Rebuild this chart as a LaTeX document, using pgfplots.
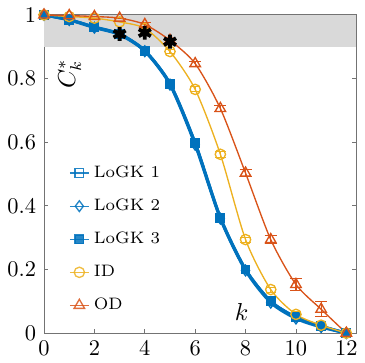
\documentclass[border=0pt]{standalone}
\usepackage{pgfplots}
\pgfplotsset{compat=1.18}
\definecolor{mblue}{RGB}{0,114,189}
\definecolor{myellow}{RGB}{237,177,32}
\definecolor{morange}{RGB}{217,83,25}
\definecolor{band}{RGB}{217,217,217}
\begin{document}
\begin{tikzpicture}
\begin{axis}[
  scale only axis,
  width=139.4pt, height=142pt,
  xmin=0, xmax=12.4, ymin=0, ymax=1,
  xtick={0,2,...,12}, ytick={0,0.2,...,1},
  yticklabels={0,0.2,0.4,0.6,0.8,1},
  tick align=inside,
  major tick length=1.8pt,
  axis line style={black!55, line width=0.4pt},
  tick style={black!55, line width=0.4pt},
  tick label style={font=\fontsize{10}{12}\selectfont},
  clip=false,
  legend style={draw=none, fill=none, at={(axis cs:1.0,0.541)}, anchor=north west,
    font=\fontsize{7.4}{9}\selectfont, row sep=4.1pt, inner sep=0pt, outer sep=0pt},
  legend cell align=left,
  legend image code/.code={\draw[mark repeat=2,mark phase=2,line width=0.5pt,opacity=0.85]
     plot coordinates {(0cm,0cm) (0.15cm,0cm) (0.3cm,0cm)};},
  every axis plot/.append style={smooth, tension=0.45},
]
\fill[band] (axis cs:0,0.9) rectangle (axis cs:12.4,1);
\draw[black!55, line width=0.4pt] (axis cs:0,1) -- (axis cs:12.4,1);
% LoGK 1
\addplot[mblue, line width=1.3pt, mark=square, mark size=1.9pt, mark options={line width=0.6pt, solid}]
 coordinates {(0,1) (1,0.985) (2,0.962) (3,0.94) (4,0.888) (5,0.784) (6,0.597) (7,0.363) (8,0.2) (9,0.1) (10,0.05) (11,0.022) (12,0)};
\addlegendentry{LoGK 1}
% LoGK 2
\addplot[mblue, line width=1.3pt, mark=diamond, mark size=2.4pt, mark options={line width=0.6pt, solid}]
 coordinates {(0,1) (1,0.984) (2,0.96) (3,0.938) (4,0.886) (5,0.781) (6,0.592) (7,0.36) (8,0.197) (9,0.096) (10,0.046) (11,0.019) (12,0)};
\addlegendentry{LoGK 2}
% LoGK 3
\addplot[mblue, line width=1.3pt, mark=square*, mark size=1.9pt, mark options={line width=0.6pt, solid}]
 coordinates {(0,1) (1,0.985) (2,0.962) (3,0.94) (4,0.888) (5,0.784) (6,0.597) (7,0.363) (8,0.2) (9,0.1) (10,0.05) (11,0.022) (12,0)};
\addlegendentry{LoGK 3}
% ID
\addplot[myellow, line width=0.6pt, mark=o, mark size=2.3pt, mark options={line width=0.6pt, solid},
  error bars/.cd, y dir=both, y explicit, error bar style={line width=0.5pt}]
 coordinates {(0,1) +- (0,0) (1,0.995) +- (0,0) (2,0.99) +- (0,0) (3,0.978) +- (0,0) (4,0.958) +- (0,0) (5,0.885) +- (0,0.005) (6,0.766) +- (0,0.008) (7,0.562) +- (0,0.01) (8,0.294) +- (0,0.008) (9,0.137) +- (0,0.008) (10,0.059) +- (0,0.008) (11,0.025) +- (0,0.008) (12,0) +- (0,0)};
\addlegendentry{ID}
% OD
\addplot[morange, line width=0.6pt, mark=triangle, mark size=2.7pt, mark options={line width=0.6pt, solid},
  error bars/.cd, y dir=both, y explicit, error bar style={line width=0.5pt}]
 coordinates {(0,1) +- (0,0) (1,0.998) +- (0,0) (2,0.995) +- (0,0) (3,0.99) +- (0,0) (4,0.97) +- (0,0.005) (5,0.92) +- (0,0.005) (6,0.847) +- (0,0.008) (7,0.706) +- (0,0.01) (8,0.503) +- (0,0.01) (9,0.294) +- (0,0.012) (10,0.153) +- (0,0.02) (11,0.075) +- (0,0.024) (12,0) +- (0,0)};
\addlegendentry{OD}
% stars
\addplot[black, only marks, mark=asterisk, mark size=3.1pt, mark options={line width=1.7pt}, forget plot]
 coordinates {(3,0.94) (4,0.944) (5,0.916)};
\node[rotate=90, font=\fontsize{10.5}{12}\selectfont] at (axis cs:1.02,0.815) {$C_k^*$};
\node[font=\fontsize{10.5}{12}\selectfont] at (axis cs:7.84,0.066) {$k$};
\end{axis}
\end{tikzpicture}
\end{document}
